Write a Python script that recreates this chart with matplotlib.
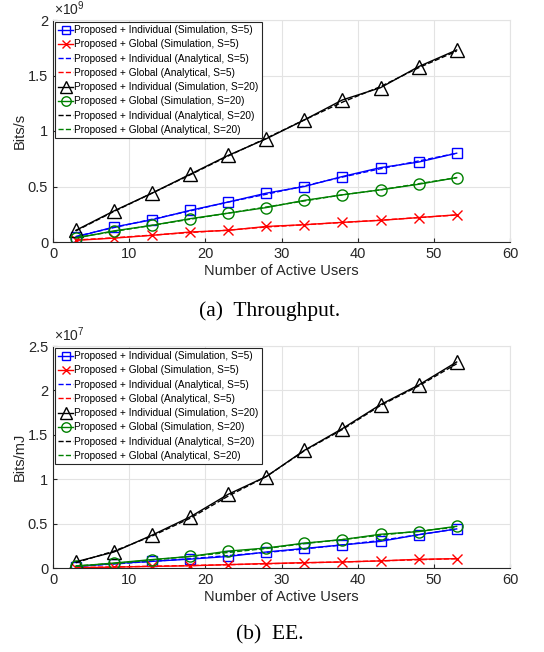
import numpy as np
import matplotlib
matplotlib.use("Agg")
import matplotlib.pyplot as plt
import matplotlib.ticker as mtick

plt.rcParams["font.family"] = ["Liberation Sans", "DejaVu Sans"]
plt.rcParams["mathtext.fontset"] = "custom"
plt.rcParams["mathtext.rm"] = "Liberation Sans"

# ── DATA ─────────────────────────────────────────────────────────────────────
users = [3, 8, 13, 18, 23, 28, 33, 38, 43, 48, 53]

# Throughput (x 1e9 bits/s)
tp_ind_s5  = [0.045, 0.135, 0.20, 0.285, 0.36, 0.44, 0.50, 0.59, 0.67, 0.72, 0.80]
tp_glo_s5  = [0.015, 0.035, 0.06, 0.09, 0.105, 0.14, 0.156, 0.177, 0.195, 0.22, 0.245]
tp_ind_s20 = [0.105, 0.28, 0.44, 0.61, 0.78, 0.93, 1.10, 1.28, 1.39, 1.58, 1.73]
tp_glo_s20 = [0.035, 0.10, 0.15, 0.21, 0.26, 0.31, 0.375, 0.425, 0.47, 0.52, 0.58]
tp_ind_s5_an  = [0.05, 0.13, 0.205, 0.28, 0.36, 0.43, 0.505, 0.585, 0.66, 0.73, 0.80]
tp_glo_s5_an  = [0.018, 0.038, 0.062, 0.085, 0.107, 0.135, 0.155, 0.176, 0.197, 0.22, 0.243]
tp_ind_s20_an = [0.10, 0.275, 0.44, 0.605, 0.775, 0.935, 1.10, 1.26, 1.40, 1.57, 1.72]
tp_glo_s20_an = [0.04, 0.095, 0.15, 0.205, 0.26, 0.315, 0.37, 0.425, 0.47, 0.525, 0.58]

# Energy efficiency (x 1e7 bits/mJ)
ee_ind_s5  = [0.015, 0.05, 0.075, 0.10, 0.13, 0.18, 0.22, 0.26, 0.30, 0.375, 0.44]
ee_glo_s5  = [0.003, 0.01, 0.018, 0.025, 0.038, 0.05, 0.06, 0.068, 0.08, 0.098, 0.105]
ee_ind_s20 = [0.07, 0.18, 0.37, 0.575, 0.83, 1.03, 1.325, 1.57, 1.84, 2.06, 2.32]
ee_glo_s20 = [0.02, 0.056, 0.095, 0.13, 0.19, 0.225, 0.28, 0.32, 0.38, 0.41, 0.47]
ee_ind_s5_an  = [0.02, 0.045, 0.075, 0.105, 0.14, 0.175, 0.215, 0.26, 0.31, 0.375, 0.44]
ee_glo_s5_an  = [0.005, 0.012, 0.02, 0.028, 0.037, 0.047, 0.058, 0.068, 0.08, 0.093, 0.105]
ee_ind_s20_an = [0.06, 0.19, 0.36, 0.56, 0.81, 1.03, 1.32, 1.56, 1.83, 2.05, 2.30]
ee_glo_s20_an = [0.025, 0.05, 0.09, 0.13, 0.175, 0.22, 0.275, 0.32, 0.37, 0.415, 0.46]

labels = [
    "Proposed + Individual (Simulation, S=5)",
    "Proposed + Global (Simulation, S=5)",
    "Proposed + Individual (Analytical, S=5)",
    "Proposed + Global (Analytical, S=5)",
    "Proposed + Individual (Simulation, S=20)",
    "Proposed + Global (Simulation, S=20)",
    "Proposed + Individual (Analytical, S=20)",
    "Proposed + Global (Analytical, S=20)",
]

BLUE, RED, BLACK, GREEN = "#0000ff", "#ff0000", "#000000", "#008000"
TXT = "#262626"
GRID = "#e3e3e3"


def draw(ax, series, ymax, yticks, ylabel, exp):
    (ind5, glo5, ind5a, glo5a, ind20, glo20, ind20a, glo20a) = series
    ax.plot(users, ind5, "-s", color=BLUE, ms=7, mfc="none", lw=1, label=labels[0])
    ax.plot(users, glo5, "-x", color=RED, ms=7, lw=1, label=labels[1])
    ax.plot(users, ind5a, "--", color=BLUE, lw=1, label=labels[2])
    ax.plot(users, glo5a, "--", color=RED, lw=1, label=labels[3])
    ax.plot(users, ind20, "-^", color=BLACK, ms=10, mfc="none", lw=1, label=labels[4])
    ax.plot(users, glo20, "-o", color=GREEN, ms=8, mfc="none", lw=1, label=labels[5])
    ax.plot(users, ind20a, "--", color=BLACK, lw=1, label=labels[6])
    ax.plot(users, glo20a, "--", color=GREEN, lw=1, label=labels[7])

    ax.set_xlim(0, 60)
    ax.set_ylim(0, ymax)
    ax.set_xticks(range(0, 61, 10))
    ax.set_yticks(yticks)
    ax.yaxis.set_major_formatter(mtick.FuncFormatter(lambda v, _: f"{v:g}"))
    ax.grid(True, color=GRID, lw=0.8)
    ax.set_axisbelow(True)
    for s in ("top", "right"):
        ax.spines[s].set_color(GRID)
    for s in ("left", "bottom"):
        ax.spines[s].set_color(TXT)
        ax.spines[s].set_linewidth(0.8)
    ax.tick_params(direction="in", length=3, colors=TXT, labelsize=10.5,
                   top=False, right=False)
    ax.set_xlabel("Number of Active Users", fontsize=10.5, color=TXT, labelpad=2)
    ax.set_ylabel(ylabel, fontsize=10.5, color=TXT, labelpad=0.5)
    ax.text(0.003, 1.01, r"$\times 10^{%d}$" % exp, transform=ax.transAxes,
            fontsize=10, color=TXT, ha="left", va="bottom")
    leg = ax.legend(loc="upper left", fontsize=7.3, handlelength=1.5,
                    handletextpad=0.1, borderpad=0.3, labelspacing=0.42,
                    borderaxespad=0.2, fancybox=False, framealpha=1,
                    edgecolor="#262626", markerscale=0.85)
    leg.get_frame().set_linewidth(0.8)


fig = plt.figure(figsize=(5.44, 6.52), dpi=100)
ax1 = fig.add_axes([53 / 544, 1 - 242 / 652, 457 / 544, 222 / 652])
ax2 = fig.add_axes([53 / 544, 1 - 568 / 652, 457 / 544, 222 / 652])

draw(ax1, [tp_ind_s5, tp_glo_s5, tp_ind_s5_an, tp_glo_s5_an,
           tp_ind_s20, tp_glo_s20, tp_ind_s20_an, tp_glo_s20_an],
     2, [0, 0.5, 1, 1.5, 2], "Bits/s", 9)
draw(ax2, [ee_ind_s5, ee_glo_s5, ee_ind_s5_an, ee_glo_s5_an,
           ee_ind_s20, ee_glo_s20, ee_ind_s20_an, ee_glo_s20_an],
     2.5, [0, 0.5, 1, 1.5, 2, 2.5], "Bits/mJ", 7)

fig.text(270 / 544, 1 - 311 / 652, "(a)  Throughput.", ha="center", va="center",
         fontsize=15.5, family="Liberation Serif")
fig.text(270 / 544, 1 - 635 / 652, "(b)  EE.", ha="center", va="center",
         fontsize=15.5, family="Liberation Serif")

fig.savefig("out.png", dpi=100)
